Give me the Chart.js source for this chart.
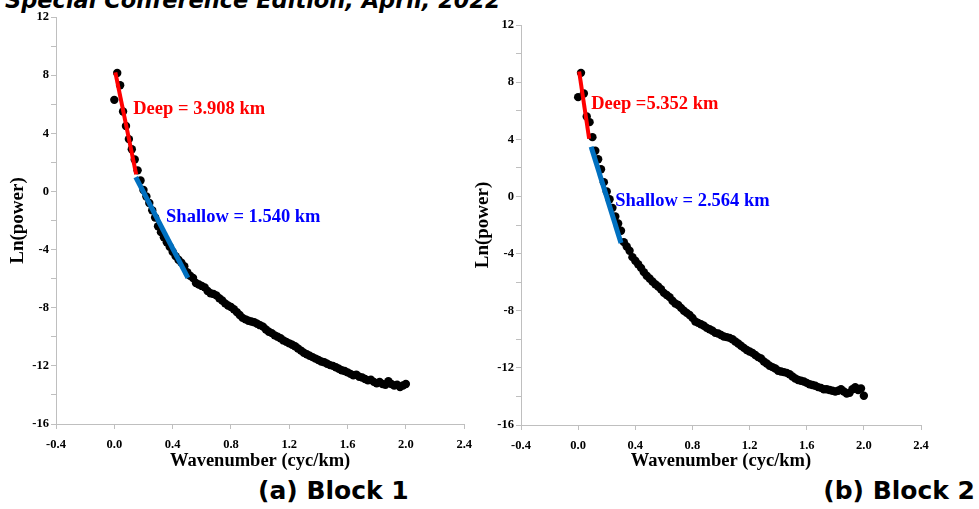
<!DOCTYPE html>
<html>
<head>
<meta charset="utf-8">
<script src="https://cdn.jsdelivr.net/npm/chart.js@4/dist/chart.umd.min.js"></script>
<style>
  html, body { margin: 0; padding: 0; background: #fff; }
  body { width: 979px; height: 509px; position: relative; overflow: hidden; }
  #header { position: absolute; left: 5px; top: -11px; font: italic bold 22.5px/22px "DejaVu Sans", sans-serif; white-space: nowrap; color: #000; }
  .cap { position: absolute; top: 476px; font: bold 25px/30px "DejaVu Sans", sans-serif; white-space: nowrap; color: #000; }
  canvas { position: absolute; top: 0; }
</style>
</head>
<body>
<div id="header">Special Conference Edition, April, 2022</div>
<canvas id="c1" width="480" height="472" style="left:0"></canvas>
<canvas id="c2" width="514" height="472" style="left:465px"></canvas>
<div class="cap" style="left:258px">(a) Block 1</div>
<div class="cap" style="right:4px">(b) Block 2</div>
<script>
// Wavenumber samples (cyc/km), shared by both spectra
const wavenumber = [
  0.00, 0.02, 0.04, 0.06, 0.08, 0.10, 0.12, 0.14, 0.16, 0.18,
  0.20, 0.22, 0.24, 0.26, 0.28, 0.30, 0.32, 0.34, 0.36, 0.38,
  0.40, 0.42, 0.44, 0.46, 0.48, 0.50, 0.52, 0.54, 0.56, 0.58,
  0.60, 0.62, 0.64, 0.66, 0.68, 0.70, 0.72, 0.74, 0.76, 0.78,
  0.80, 0.82, 0.84, 0.86, 0.88, 0.90, 0.92, 0.94, 0.96, 0.98,
  1.00, 1.02, 1.04, 1.06, 1.08, 1.10, 1.12, 1.14, 1.16, 1.18,
  1.20, 1.22, 1.24, 1.26, 1.28, 1.30, 1.32, 1.34, 1.36, 1.38,
  1.40, 1.42, 1.44, 1.46, 1.48, 1.50, 1.52, 1.54, 1.56, 1.58,
  1.60, 1.62, 1.64, 1.66, 1.68, 1.70, 1.72, 1.74, 1.76, 1.78,
  1.80, 1.82, 1.84, 1.86, 1.88, 1.90, 1.92, 1.94, 1.96, 1.98,
  2.00
];

// Ln(power) of the radially averaged spectrum, Block 1
const block1Power = [
  6.30, 8.15, 7.30, 5.50, 4.50, 3.60, 2.90, 2.20, 1.45, 0.75,
  0.10, -0.35, -0.80, -1.30, -1.80, -2.40, -2.80, -3.15, -3.50, -3.80,
  -4.15, -4.45, -4.70, -4.90, -5.15, -5.55, -5.80, -5.95, -6.30, -6.40,
  -6.50, -6.60, -6.85, -7.00, -7.05, -7.15, -7.35, -7.50, -7.70, -7.85,
  -7.95, -8.10, -8.30, -8.50, -8.70, -8.80, -8.90, -8.95, -9.00, -9.10,
  -9.20, -9.30, -9.50, -9.65, -9.75, -9.90, -10.00, -10.10, -10.25, -10.35,
  -10.45, -10.55, -10.65, -10.80, -10.95, -11.10, -11.20, -11.30, -11.40, -11.50,
  -11.60, -11.70, -11.75, -11.85, -11.95, -12.00, -12.10, -12.20, -12.30, -12.35,
  -12.45, -12.55, -12.65, -12.60, -12.75, -12.80, -12.90, -13.00, -12.95, -13.10,
  -13.20, -13.10, -13.25, -13.30, -13.05, -13.25, -13.35, -13.30, -13.45, -13.35,
  -13.25
];

// Ln(power) of the radially averaged spectrum, Block 2
const block2Power = [
  6.95, 8.65, 7.20, 5.60, 5.20, 4.15, 3.20, 2.60, 1.90, 1.00,
  0.35, -0.20, -0.80, -1.40, -1.90, -2.40, -3.20, -3.50, -3.80, -4.25,
  -4.50, -4.75, -5.00, -5.30, -5.55, -5.75, -5.95, -6.15, -6.30, -6.50,
  -6.75, -6.90, -7.05, -7.30, -7.50, -7.60, -7.80, -8.00, -8.15, -8.30,
  -8.50, -8.75, -8.85, -8.95, -9.05, -9.20, -9.30, -9.40, -9.55, -9.60,
  -9.70, -9.80, -9.85, -9.90, -10.00, -10.15, -10.30, -10.45, -10.60, -10.75,
  -10.85, -10.95, -11.10, -11.25, -11.35, -11.55, -11.70, -11.85, -11.95, -12.05,
  -12.20, -12.25, -12.30, -12.35, -12.45, -12.60, -12.75, -12.85, -12.90, -12.95,
  -13.05, -13.15, -13.20, -13.25, -13.35, -13.40, -13.50, -13.50, -13.55, -13.60,
  -13.65, -13.60, -13.50, -13.65, -13.80, -13.75, -13.50, -13.35, -13.55, -13.45,
  -13.95
];

// Depth estimates from the straight-line fits [deep, shallow], km
const block1Depths = [3.908, 1.540];
const block2Depths = [5.352, 2.564];

// Wavenumber range of each fit [deep, shallow]
const block1FitRange = [[0.007, 0.150], [0.147, 0.505]];
const block2FitRange = [[0.007, 0.077], [0.091, 0.300]];

// Ln(power) where each fit starts [deep, shallow]
const block1FitStart = [8.19, 0.98];
const block2FitStart = [8.75, 3.47];

// Axis ticks
const xTickValues = [-0.4, 0.0, 0.4, 0.8, 1.2, 1.6, 2.0, 2.4];
const yTickValues = [-16, -14, -12, -10, -8, -6, -4, -2, 0, 2, 4, 6, 8, 10, 12];
const yLabelStep = 4;

// Spectral slope of a source ensemble at depth z is -4*pi*z
function fitLine(range, start, depth) {
  const slope = -4 * Math.PI * depth;
  return range.map(k => ({ x: k, y: start + slope * (k - range[0]) }));
}

const fitTextPlugin = {
  id: 'fitText',
  afterDatasetsDraw(chart, args, opts) {
    const ctx = chart.ctx;
    const xs = chart.scales.x, ys = chart.scales.y;
    ctx.save();
    ctx.font = 'bold 18.5px "Liberation Serif", "Times New Roman", serif';
    ctx.textAlign = 'left';
    ctx.textBaseline = 'middle';
    for (const it of opts.items || []) {
      ctx.fillStyle = it.color;
      ctx.fillText(it.text, xs.getPixelForValue(it.x), ys.getPixelForValue(it.y));
    }
    ctx.restore();
  }
};

const serif = '"Liberation Serif", "Times New Roman", serif';
const axisGrey = '#bfbfbf';

function makeChart(id, power, depths, ranges, starts, deepText, shallowText, textPos, pad, xAxisHeight) {
  const points = wavenumber.map((k, i) => ({ x: k, y: power[i] }));
  return new Chart(document.getElementById(id), {
    type: 'scatter',
    data: {
      datasets: [
        {
          data: fitLine(ranges[0], starts[0], depths[0]),
          showLine: true, borderColor: '#ff0000', borderWidth: 4,
          pointRadius: 0, order: 0
        },
        {
          data: fitLine(ranges[1], starts[1], depths[1]),
          showLine: true, borderColor: '#0070c0', borderWidth: 5,
          pointRadius: 0, order: 0
        },
        {
          data: points,
          showLine: false, pointRadius: 4.2, pointBorderWidth: 0,
          pointBackgroundColor: '#000', pointBorderColor: '#000', order: 1
        }
      ]
    },
    options: {
      responsive: false,
      animation: false,
      devicePixelRatio: 1,
      layout: { padding: pad },
      plugins: {
        legend: { display: false },
        tooltip: { enabled: false },
        fitText: {
          items: [
            { text: deepText + depths[0].toFixed(3) + ' km', x: textPos[0][0], y: textPos[0][1], color: '#ff0000' },
            { text: shallowText + depths[1].toFixed(3) + ' km', x: textPos[1][0], y: textPos[1][1], color: '#0000ff' }
          ]
        }
      },
      scales: {
        x: {
          type: 'linear', min: -0.4, max: 2.4,
          afterBuildTicks: s => { s.ticks = xTickValues.map(v => ({ value: v })); },
          afterFit: s => { s.height = xAxisHeight; },
          ticks: {
            autoSkip: false, maxRotation: 0, padding: 8, color: '#000',
            font: { family: serif, weight: 'bold', size: 12.5 },
            callback: v => Number(v).toFixed(1)
          },
          grid: { drawOnChartArea: false, drawTicks: true, tickLength: 5, color: axisGrey },
          border: { color: axisGrey, width: 1 },
          title: {
            display: true, text: 'Wavenumber (cyc/km)', color: '#000',
            font: { family: serif, weight: 'bold', size: 18.5 },
            padding: { top: 0, bottom: 0 }
          }
        },
        y: {
          type: 'linear', min: -16, max: 12,
          afterBuildTicks: s => { s.ticks = yTickValues.map(v => ({ value: v })); },
          afterFit: s => { s.width = 56; },
          ticks: {
            autoSkip: false, padding: 2, color: '#000',
            font: { family: serif, weight: 'bold', size: 12.5 },
            callback: v => (v % yLabelStep === 0 ? String(v) : '')
          },
          grid: { drawOnChartArea: false, drawTicks: true, tickLength: 5, color: axisGrey },
          border: { color: axisGrey, width: 1 },
          title: {
            display: true, text: 'Ln(power)', color: '#000',
            font: { family: serif, weight: 'bold', size: 19 },
            padding: { top: 7, bottom: 0 }
          }
        }
      }
    },
    plugins: [fitTextPlugin]
  });
}

makeChart('c1', block1Power, block1Depths, block1FitRange, block1FitStart,
  'Deep = ', 'Shallow = ',
  [[0.13, 5.63], [0.355, -1.78]],
  { left: 0, right: 15, top: 17, bottom: 0 }, 48);

makeChart('c2', block2Power, block2Depths, block2FitRange, block2FitStart,
  'Deep =', 'Shallow = ',
  [[0.091, 6.42], [0.259, -0.35]],
  { left: 0, right: 58, top: 25, bottom: 0 }, 47);
</script>
</body>
</html>
